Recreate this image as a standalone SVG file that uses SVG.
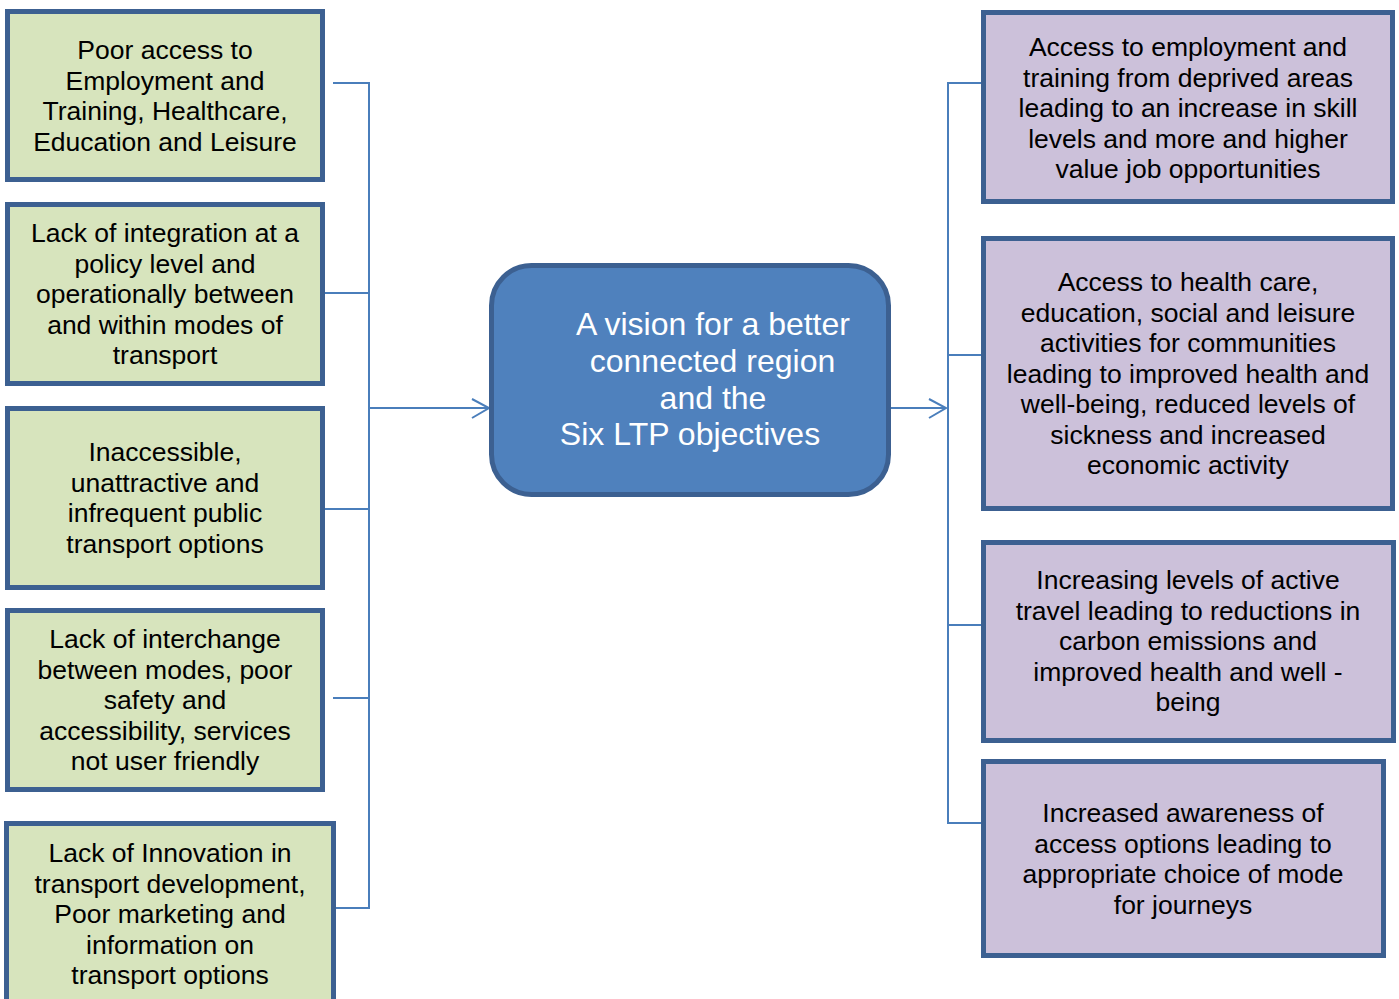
<svg xmlns="http://www.w3.org/2000/svg" width="1399" height="999" viewBox="0 0 1399 999">
<style>
.g{fill:#d7e4bd;stroke:#3c6091;stroke-width:5}
.p{fill:#ccc1da;stroke:#3c6091;stroke-width:5}
.t{font-family:"Liberation Sans",Arial,sans-serif;font-size:26.5px;fill:#000;text-anchor:middle}
.c{font-family:"Liberation Sans",Arial,sans-serif;font-size:32px;fill:#fff;text-anchor:middle}
.ln{fill:none;stroke:#4a7ebb;stroke-width:2}
</style>
<rect width="1399" height="999" fill="#fff"/>
<g id="connectors">
<path class="ln" d="M333 83H369V908H333M325 293H369M325 509H369M333 698H369M369 408H489M472 399L489 408L472 418"/>
<path class="ln" d="M982 83H948V823H982M982 355H948M982 625H948M890 408H946M929 399L946 408L929 418"/>
</g>
<g id="n1"><rect class="g" x="7.5" y="11.5" width="315" height="168"/>
<text class="t"><tspan x="165" y="59">Poor access to</tspan><tspan x="165" y="89.5">Employment and</tspan><tspan x="165" y="120">Training, Healthcare,</tspan><tspan x="165" y="150.5">Education and Leisure</tspan></text></g>
<g id="n2"><rect class="g" x="7.5" y="204.5" width="315" height="179"/>
<text class="t"><tspan x="165" y="242">Lack of integration at a</tspan><tspan x="165" y="272.5">policy level and</tspan><tspan x="165" y="303">operationally between</tspan><tspan x="165" y="333.5">and within modes of</tspan><tspan x="165" y="364">transport</tspan></text></g>
<g id="n3"><rect class="g" x="7.5" y="408.5" width="315" height="179"/>
<text class="t"><tspan x="165" y="461">Inaccessible,</tspan><tspan x="165" y="491.5">unattractive and</tspan><tspan x="165" y="522">infrequent public</tspan><tspan x="165" y="552.5">transport options</tspan></text></g>
<g id="n4"><rect class="g" x="7.5" y="610.5" width="315" height="179"/>
<text class="t"><tspan x="165" y="648">Lack of interchange</tspan><tspan x="165" y="678.5">between modes, poor</tspan><tspan x="165" y="709">safety and</tspan><tspan x="165" y="739.5">accessibility, services</tspan><tspan x="165" y="770">not user friendly</tspan></text></g>
<g id="n5"><rect class="g" x="6.5" y="823.5" width="327" height="190"/>
<text class="t"><tspan x="170" y="862">Lack of Innovation in</tspan><tspan x="170" y="892.5">transport development,</tspan><tspan x="170" y="923">Poor marketing and</tspan><tspan x="170" y="953.5">information on</tspan><tspan x="170" y="984">transport options</tspan></text></g>
<g id="center"><rect x="491.5" y="265.5" width="397" height="229" rx="40" fill="#4f81bd" stroke="#3c6091" stroke-width="5"/>
<text class="c"><tspan x="713" y="335">A vision for a better</tspan><tspan x="712.5" y="372">connected region</tspan><tspan x="713" y="408.5">and the</tspan><tspan x="690" y="445">Six LTP objectives</tspan></text></g>
<g id="r1"><rect class="p" x="983.5" y="12.5" width="409" height="189"/>
<text class="t"><tspan x="1188" y="56">Access to employment and</tspan><tspan x="1188" y="86.5">training from deprived areas</tspan><tspan x="1188" y="117">leading to an increase in skill</tspan><tspan x="1188" y="147.5">levels and more and higher</tspan><tspan x="1188" y="178">value job opportunities</tspan></text></g>
<g id="r2"><rect class="p" x="983.5" y="238.5" width="409" height="270"/>
<text class="t"><tspan x="1188" y="291">Access to health care,</tspan><tspan x="1188" y="321.5">education, social and leisure</tspan><tspan x="1188" y="352">activities for communities</tspan><tspan x="1188" y="382.5">leading to improved health and</tspan><tspan x="1188" y="413">well-being, reduced levels of</tspan><tspan x="1188" y="443.5">sickness and increased</tspan><tspan x="1188" y="474">economic activity</tspan></text></g>
<g id="r3"><rect class="p" x="983.5" y="542.5" width="410" height="198"/>
<text class="t"><tspan x="1188" y="589">Increasing levels of active</tspan><tspan x="1188" y="619.5">travel leading to reductions in</tspan><tspan x="1188" y="650">carbon emissions and</tspan><tspan x="1188" y="680.5">improved health and well -</tspan><tspan x="1188" y="711">being</tspan></text></g>
<g id="r4"><rect class="p" x="983.5" y="761.5" width="400" height="194"/>
<text class="t"><tspan x="1183" y="822">Increased awareness of</tspan><tspan x="1183" y="852.5">access options leading to</tspan><tspan x="1183" y="883">appropriate choice of mode</tspan><tspan x="1183" y="913.5">for journeys</tspan></text></g>
</svg>
